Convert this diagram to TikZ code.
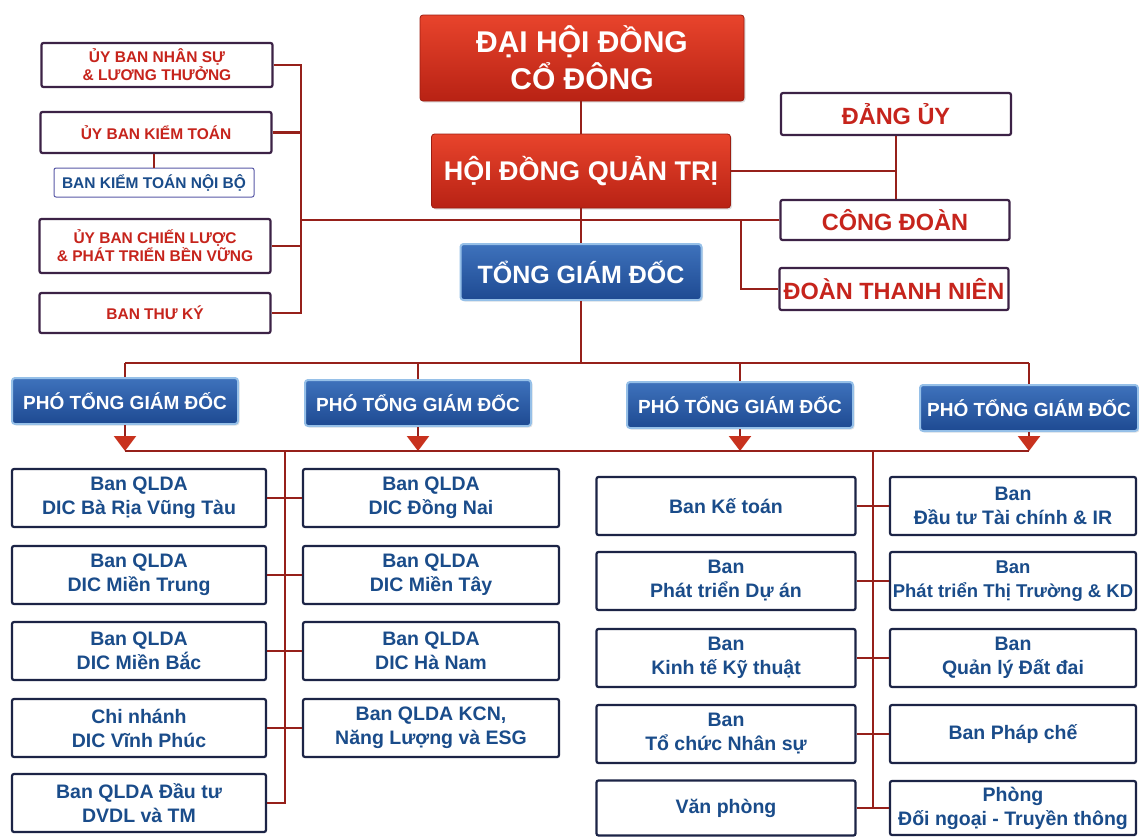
\documentclass[tikz,border=0pt]{standalone}
\usepackage{fontspec}
\setmainfont{Liberation Sans}
\usetikzlibrary{arrows.meta,shadows,calc}
\definecolor{lnred}{RGB}{150,32,26}
\definecolor{arrred}{RGB}{200,50,30}
\definecolor{boxredtop}{RGB}{232,68,44}
\definecolor{boxredbot}{RGB}{184,34,20}
\definecolor{blueT}{RGB}{62,114,188}
\definecolor{blueB}{RGB}{30,74,146}
\definecolor{glow}{RGB}{150,192,232}
\definecolor{navy}{RGB}{28,36,70}
\definecolor{orgedge}{RGB}{60,34,70}
\definecolor{txtblue}{RGB}{26,76,138}
\definecolor{txtred}{RGB}{198,36,28}
\begin{document}
\begin{tikzpicture}[x=1pt,y=-1pt,
  conn/.style={draw=lnred, line width=2.4pt},
  arr/.style={-{Triangle[width=22pt,length=15pt,color=arrred]}},
  redbox/.style={rectangle, rounded corners=3pt, top color=boxredtop, bottom color=boxredbot,
     draw=boxredbot!85!black, line width=0.8pt, text=white, align=center, inner sep=0pt,
     drop shadow={opacity=0.25, shadow xshift=1.5pt, shadow yshift=-1.5pt}},
  bluebox/.style={rectangle, rounded corners=3pt, top color=blueT, bottom color=blueB,
     draw=glow, line width=2pt, text=white, align=center, inner sep=0pt,
     drop shadow={opacity=0.2, shadow xshift=1.5pt, shadow yshift=-1.5pt}},
  ptbox/.style={bluebox, minimum width=226pt, minimum height=46pt,
     font=\fontsize{19}{22}\selectfont\bfseries},
  orgbox/.style={rectangle, rounded corners=2pt, draw=orgedge, line width=2.2pt, fill=white,
     text=txtred, align=center, inner sep=0pt, font=\fontsize{23.5}{27}\selectfont\bfseries},
  combox/.style={rectangle, rounded corners=2pt, draw=orgedge, line width=2.2pt, fill=white,
     text=txtred, align=center, inner sep=0pt, minimum width=231pt,
     font=\fontsize{15.5}{18}\selectfont\bfseries},
  lowbox/.style={rectangle, rounded corners=2pt, draw=navy, line width=2.2pt, fill=white,
     text=txtblue, align=center, inner sep=0pt, minimum height=58pt,
     font=\fontsize{19.5}{24}\selectfont\bfseries},
  colA/.style={lowbox, minimum width=254pt},
  colB/.style={lowbox, minimum width=256pt},
  colE/.style={lowbox, minimum width=259pt},
  colF/.style={lowbox, minimum width=246pt},
]
\useasboundingbox (0,0) rectangle (1139,836);
\fill[white] (0,0) rectangle (1139,836);

% ---- top level
\node[redbox, minimum width=324pt, minimum height=86pt, font=\fontsize{30}{37}\selectfont\bfseries] (dh) at (582,58) {ĐẠI HỘI ĐỒNG\\CỔ ĐÔNG};
\node[redbox, minimum width=299pt, minimum height=74pt, font=\fontsize{27}{31}\selectfont\bfseries] (hd) at (581,171) {HỘI ĐỒNG QUẢN TRỊ};
\node[bluebox, minimum width=241pt, minimum height=56pt, font=\fontsize{25}{29}\selectfont\bfseries] (tgd) at (581,272) {TỔNG GIÁM ĐỐC};

\node[orgbox, minimum width=230pt, minimum height=42pt] (dang) at (896,114) {ĐẢNG ỦY};
\node[orgbox, minimum width=229pt, minimum height=40pt] (cd) at (895,220) {CÔNG ĐOÀN};
\node[orgbox, minimum width=229pt, minimum height=42pt] (dtn) at (894,289) {ĐOÀN THANH NIÊN};

% ---- committees
\node[combox, minimum height=44pt] (k1) at (157,65) {ỦY BAN NHÂN SỰ\\\& LƯƠNG THƯỞNG};
\node[combox, minimum height=41pt] (k2) at (156,132.5) {ỦY BAN KIỂM TOÁN};
\node[rectangle, rounded corners=2pt, draw=gray!70!blue, line width=1pt, fill=white, text=txtblue,
      inner sep=0pt, minimum width=200pt, minimum height=29pt,
      font=\fontsize{15.5}{18}\selectfont\bfseries] (k2b) at (154,182.5) {BAN KIỂM TOÁN NỘI BỘ};
\node[combox, minimum height=54pt] (k3) at (155,246) {ỦY BAN CHIẾN LƯỢC\\\& PHÁT TRIỂN BỀN VỮNG};
\node[combox, minimum height=40pt] (k4) at (155,313) {BAN THƯ KÝ};

% ---- deputies
\node[ptbox] (p1) at (125,401) {PHÓ TỔNG GIÁM ĐỐC};
\node[ptbox] (p2) at (418,403) {PHÓ TỔNG GIÁM ĐỐC};
\node[ptbox] (p3) at (740,405) {PHÓ TỔNG GIÁM ĐỐC};
\node[ptbox, minimum width=218pt] (p4) at (1029,408) {PHÓ TỔNG GIÁM ĐỐC};

% ---- left half
\node[colA] (a1) at (139,498) {Ban QLDA\\DIC Bà Rịa Vũng Tàu};
\node[colA] (a2) at (139,575) {Ban QLDA\\DIC Miền Trung};
\node[colA] (a3) at (139,651) {Ban QLDA\\DIC Miền Bắc};
\node[colA] (a4) at (139,728) {Chi nhánh\\DIC Vĩnh Phúc};
\node[colA] (a5) at (139,803) {Ban QLDA Đầu tư\\DVDL và TM};
\node[colB] (b1) at (431,498) {Ban QLDA\\DIC Đồng Nai};
\node[colB] (b2) at (431,575) {Ban QLDA\\DIC Miền Tây};
\node[colB] (b3) at (431,651) {Ban QLDA\\DIC Hà Nam};
\node[colB] (b4) at (431,728) {Ban QLDA KCN,\\Năng Lượng và ESG};

% ---- right half
\node[colE] (e1) at (726,506) {Ban Kế toán};
\node[colE] (e2) at (726,581) {Ban\\Phát triển Dự án};
\node[colE] (e3) at (726,658) {Ban\\Kinh tế Kỹ thuật};
\node[colE] (e4) at (726,734) {Ban\\Tổ chức Nhân sự};
\node[colE, minimum height=55pt] (e5) at (726,808) {Văn phòng};
\node[colF] (f1) at (1013,506) {Ban\\Đầu tư Tài chính \& IR};
\node[colF, font=\fontsize{18.5}{24}\selectfont\bfseries] (f2) at (1013,581) {Ban\\Phát triển Thị Trường \& KD};
\node[colF] (f3) at (1013,658) {Ban\\Quản lý Đất đai};
\node[colF] (f4) at (1013,734) {Ban Pháp chế};
\node[colF, minimum height=54pt] (f5) at (1013,808) {Phòng\\Đối ngoại - Truyền thông};

% ---- connectors: top
\coordinate (cbus) at (301,0);
\coordinate (j1) at (741,220);
\coordinate (bus1) at (0,363);
\coordinate (bus2) at (0,451);
\coordinate (sL) at (285,451);
\coordinate (sR) at (873,451);

\draw[conn] (hd.north) -- (hd.north |- dh.south);
\draw[conn] (tgd.north) -- (tgd.north |- hd.south);
\draw[conn] (hd.east) -- (hd.east -| dang.south);
\draw[conn] (dang.south) -- (dang.south |- cd.north);
\draw[conn] (cd.west) -- (cd.west -| cbus);
\draw[conn] (j1) |- (dtn.west);
\draw[conn] (k1.east) -- (k1.east -| cbus) -- (k4.east -| cbus) -- (k4.east);
\draw[conn] (k2.east) -- (k2.east -| cbus);
\draw[conn] (k3.east) -- (k3.east -| cbus);
\draw[conn] (k2b.north) -- (k2b.north |- k2.south);

% ---- connectors: deputies
\draw[conn] (tgd.south) -- (tgd.south |- bus1);
\draw[conn] (p1.north |- bus1) -- (p4.north |- bus1);
\foreach \p in {p1,p2,p3,p4}{
  \draw[conn] (\p.north) -- (\p.north |- bus1);
  \draw[conn, arr] (\p.south) -- (\p.south |- bus2);
}
\draw[conn] (p1.south |- bus2) -- (p4.south |- bus2);

% ---- connectors: departments
\draw[conn] (sL) -- (sL |- a5.east) -- (a5.east);
\foreach \l/\r in {a1/b1,a2/b2,a3/b3,a4/b4}{
  \draw[conn] (\l.east) -- (\r.west);
}
\draw[conn] (sR) -- (sR |- e5.east);
\foreach \l/\r in {e1/f1,e2/f2,e3/f3,e4/f4,e5/f5}{
  \draw[conn] (\l.east) -- (\r.west);
}
\end{tikzpicture}
\end{document}
